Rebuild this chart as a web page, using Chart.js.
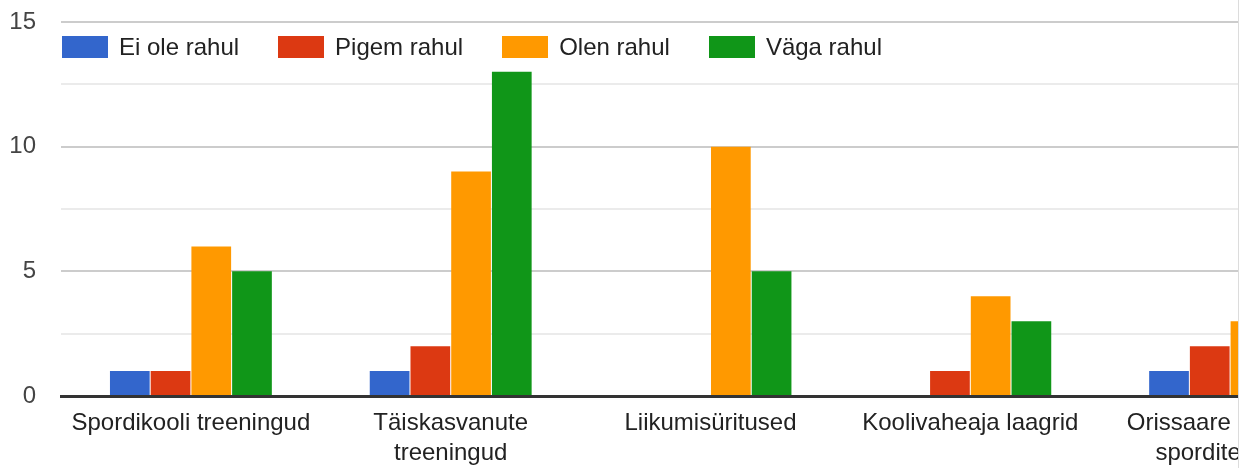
<!DOCTYPE html>
<html>
<head>
<meta charset="utf-8">
<script src="https://cdn.jsdelivr.net/npm/chart.js@4.4.1/dist/chart.umd.min.js"></script>
<style>
  body { margin: 0; background: #fff; font-family: "Liberation Sans", Arial, sans-serif; }
  #wrap { position: relative; width: 1238px; height: 468px; overflow: hidden; border-right: 1px solid #dcdcdc; }
  #legend { position: absolute; left: 62px; top: 36px; display: flex; }
  .item { display: flex; align-items: center; margin-right: 39px; font-size: 24px; color: #222; height: 22px; }
  .box { width: 46px; height: 22px; margin-right: 11px; }
</style>
</head>
<body>
<div id="wrap">
  <canvas id="chart" width="1400" height="468"></canvas>
  <div id="legend"></div>
</div>
<script>
// categories (multi-line labels like the original)
const categories = [
  "Spordikooli treeningud",
  ["Täiskasvanute", "treeningud"],
  "Liikumisüritused",
  "Koolivaheaja laagrid",
  ["Orissaare staadioni", "sporditegevus"]
];

const seriesNames = ["Ei ole rahul", "Pigem rahul", "Olen rahul", "Väga rahul"];
const seriesColors = ["#3366cc", "#dc3912", "#ff9900", "#109618"];

const eiOleRahul = [1, 1, 0, 0, 1];
const pigemRahul = [1, 2, 0, 1, 2];
const olenRahul  = [6, 9, 10, 4, 3];
const vagaRahul  = [5, 13, 5, 3, 2];

const yTickLabels = [0, 5, 10, 15];

const values = [eiOleRahul, pigemRahul, olenRahul, vagaRahul];

const datasets = seriesNames.map((name, i) => ({
  label: name,
  data: values[i],
  backgroundColor: seriesColors[i],
  borderWidth: 0,
  categoryPercentage: 0.627,
  barPercentage: 0.975
}));

// legend drawn as html, sits over the plot like in google charts
const legend = document.getElementById("legend");
datasets.forEach(ds => {
  legend.innerHTML += `
    <div class="item"><div class="box" style="background:${ds.backgroundColor}"></div>${ds.label}</div>
  `;
});

const font = { family: "'Liberation Sans', Arial, sans-serif", size: 24, lineHeight: 1.23 };

new Chart(document.getElementById("chart"), {
  type: "bar",
  data: { labels: categories, datasets: datasets },
  options: {
    responsive: false,
    animation: false,
    layout: { padding: { top: 22, right: 40, bottom: 0, left: 0 } },
    plugins: { legend: { display: false }, tooltip: { enabled: false } },
    scales: {
      x: {
        z: 1,
        grid: { display: false, drawTicks: false },
        border: { display: true, color: "#333", width: 3 },
        ticks: { font: font, color: "#222", padding: 13, maxRotation: 0, autoSkip: false },
        afterFit: scale => { scale.height = 72; }
      },
      y: {
        min: 0,
        max: 15,
        border: { display: false },
        grid: {
          drawTicks: false,
          lineWidth: 2,
          color: ctx => {
            const v = ctx.tick.value;
            if (v === 0) return "rgba(0,0,0,0)";
            return yTickLabels.includes(v) ? "#cccccc" : "#ebebeb";
          }
        },
        ticks: {
          stepSize: 2.5,
          font: font,
          color: "#444",
          padding: 25,
          callback: v => yTickLabels.includes(v) ? v : ""
        },
        // the tick padding would otherwise push the plot top down
        afterFit: scale => {
          scale.width = 61;
          scale.paddingTop = 0;
          scale.paddingBottom = 0;
        }
      }
    }
  }
});
</script>
</body>
</html>
